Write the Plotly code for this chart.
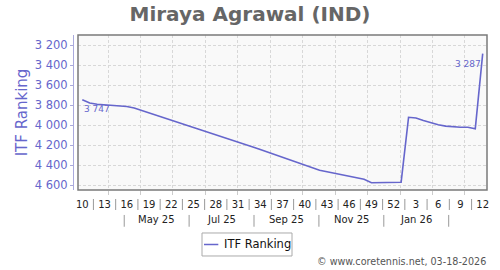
import plotly.graph_objects as go

# ---------------- data ----------------
week_labels = ["10", "13", "16", "19", "22", "25", "28", "31", "34", "37",
               "40", "43", "46", "49", "52", "3", "6", "9", "12"]
month_labels = ["May 25", "Jul 25", "Sep 25", "Nov 25", "Jan 26"]
ranking = [3747, 3780, 3793, 3800, 3803, 3808, 3815, 3830, 3854, 3879,
           3903, 3927, 3952, 3976, 4000, 4024, 4049, 4073, 4097, 4122,
           4146, 4170, 4195, 4220, 4246, 4272, 4299, 4326, 4352, 4379,
           4406, 4432, 4452, 4467, 4482, 4498, 4518, 4530, 4542, 4577,
           4576, 4574, 4573, 4572, 3923, 3930, 3955, 3978, 3998, 4011,
           4020, 4022, 4023, 4037, 3287]
y_ticks = [3200, 3400, 3600, 3800, 4000, 4200, 4400, 4600]

week_index = list(range(len(ranking)))

# ---------------- style ----------------
FONT = "DejaVu Sans"
LINE_COL = "#6666cc"
AXIS_COL = "#6666cc"

# month grid (in weeks)
month_w = 4.376
first_month = 3.466
grid_vals = [first_month + month_w * k for k in range(12)]
month_sep = [first_month + month_w * (0.5 + 2 * k) for k in range(6)]
month_pos = [first_month + month_w * (1.5 + 2 * k) for k in range(len(month_labels))]
week_ticks = week_index[::3]
week_sep = [(a + b) / 2 for a, b in zip(week_ticks[:-1], week_ticks[1:])]

fig = go.Figure()
fig.add_trace(go.Scatter(
    x=week_index, y=ranking, mode="lines", name="ITF Ranking",
    line=dict(color=LINE_COL, width=1.6), showlegend=False, hoverinfo="skip"))

shapes = []
# plot border
shapes.append(dict(type="rect", xref="x domain", yref="y domain", x0=0, x1=1, y0=0, y1=1,
                   line=dict(color="#7a7a7a", width=1.5), layer="above"))
# week separators
for s in week_sep:
    shapes.append(dict(type="line", xref="x", yref="paper", x0=s, x1=s,
                       y0=-0.058, y1=-0.129, line=dict(color="#999999", width=1)))
# month separators
for s in month_sep:
    shapes.append(dict(type="line", xref="x", yref="paper", x0=s, x1=s,
                       y0=-0.161, y1=-0.237, line=dict(color="#999999", width=1)))
# manual legend
shapes.append(dict(type="rect", xref="paper", yref="paper", x0=0.3116, x1=0.5290,
                   y0=-0.2774, y1=-0.4258, line=dict(color="#aaaaaa", width=1),
                   fillcolor="white"))
shapes.append(dict(type="line", xref="paper", yref="paper", x0=0.3164, x1=0.351,
                   y0=-0.3516, y1=-0.3516, line=dict(color=LINE_COL, width=1.5)))

annotations = []
for lab, p in zip(month_labels, month_pos):
    annotations.append(dict(x=p, y=-0.1935, xref="x", yref="paper", text=lab,
                            showarrow=False, xanchor="center", yanchor="middle",
                            font=dict(family=FONT, size=10, color="#222222")))
annotations.append(dict(x=0.3606, y=-0.3516, xref="paper", yref="paper", text="ITF Ranking",
                        showarrow=False, xanchor="left", yanchor="middle",
                        font=dict(family=FONT, size=11.5, color="#111111")))
annotations.append(dict(x=1.0024, y=-0.4645, xref="paper", yref="paper",
                        text="© www.coretennis.net, 03-18-2026",
                        showarrow=False, xanchor="right", yanchor="middle",
                        font=dict(family=FONT, size=9.6, color="#555555")))


def fmt(v):
    return f"{v:,}".replace(",", " ")


annotations.append(dict(x=week_index[0], y=ranking[0], xref="x", yref="y",
                        text=fmt(ranking[0]), showarrow=False, xanchor="left",
                        yanchor="top", yshift=-2,
                        font=dict(family=FONT, size=9, color=LINE_COL)))
annotations.append(dict(x=week_index[-1], y=ranking[-1], xref="x", yref="y",
                        text=fmt(ranking[-1]), showarrow=False, xanchor="right",
                        yanchor="top", yshift=-3,
                        font=dict(family=FONT, size=9, color=LINE_COL)))

fig.update_layout(
    width=500, height=270,
    margin=dict(l=73, r=13, t=35, b=80, pad=0),
    paper_bgcolor="white", plot_bgcolor="#f9f9f9",
    separators=". ",
    title=dict(text="<b>Miraya Agrawal (IND)</b>", x=0.5, xref="container",
               y=1 - 14 / 270, yref="container", xanchor="center", yanchor="middle",
               font=dict(family=FONT, size=20, color="#666666")),
    showlegend=False,
    shapes=shapes, annotations=annotations,
    xaxis=dict(domain=[5 / 414, 1], range=[-0.58, 54.58], showline=False, zeroline=False,
               tickmode="array", tickvals=week_ticks, ticktext=week_labels,
               ticks="", showgrid=False,
               tickfont=dict(family=FONT, size=10, color="#222222"),
               ticklabelstandoff=7,
               minor=dict(tickmode="array", tickvals=grid_vals, showgrid=True,
                          gridcolor="#d8d8d8", griddash="3px,2px", gridwidth=1,
                          ticks="outside", ticklen=4, tickcolor="#cccccc")),
    yaxis=dict(anchor="free", position=0, range=[4650, 3100], autorange=False,
               tickmode="array", tickvals=y_ticks, tickformat=",d", separatethousands=True,
               showline=True, linecolor="#aaaadd", linewidth=1,
               ticks="outside", ticklen=3, tickcolor="#aaaadd",
               tickfont=dict(family=FONT, size=11.5, color=AXIS_COL),
               showgrid=True, gridcolor="#d8d8d8", griddash="3px,2px", gridwidth=1,
               zeroline=False,
               title=dict(text="ITF Ranking", standoff=2,
                          font=dict(family=FONT, size=15, color=AXIS_COL))),
)

fig.write_html("out.html")
